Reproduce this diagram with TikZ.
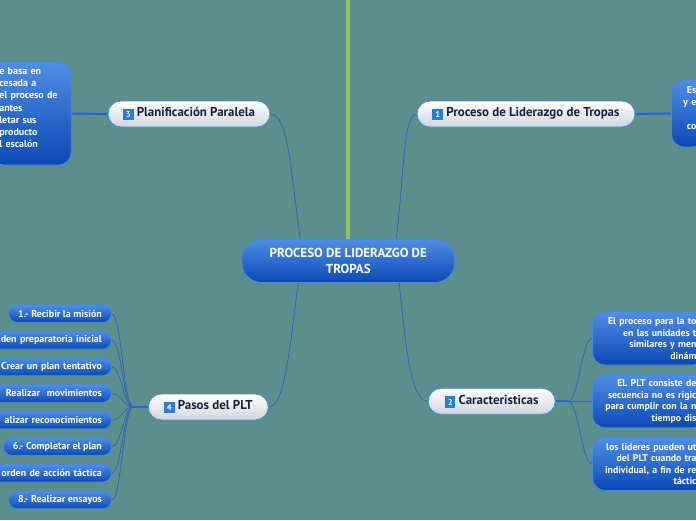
\documentclass[tikz,border=0pt]{standalone}
\usepackage{fontspec}
\setmainfont{PT Sans}
\usepackage{xcolor}
\usepackage{tikz}
\usetikzlibrary{positioning, calc, backgrounds}

\definecolor{bgteal}{RGB}{92,142,139}
\definecolor{stemgreen}{RGB}{141,198,99}
\definecolor{cardtop}{RGB}{78,142,228}
\definecolor{cardbot}{RGB}{12,72,182}
\definecolor{cardline}{RGB}{66,138,226}
\definecolor{pillgray}{RGB}{208,213,220}
\definecolor{pillline}{RGB}{70,140,215}
\definecolor{navytext}{RGB}{22,32,66}
\definecolor{iconblue}{RGB}{40,125,220}
\definecolor{linkblue}{RGB}{45,105,185}
\definecolor{trunkblue}{RGB}{35,105,205}

\newcommand{\numicon}[1]{{\setlength{\fboxsep}{1.3pt}\raisebox{-1.2pt}{\colorbox{iconblue}{\makebox[8pt][c]{\rule[-1.2pt]{0pt}{9.2pt}\textcolor{white}{\fontsize{8.5}{8.5}\selectfont\bfseries #1}}}}}}

\begin{document}
\begin{tikzpicture}[x=1pt, y=-1pt,
  root/.style={rectangle, draw=cardline, line width=0.8pt, rounded corners=20pt,
               top color=cardtop, bottom color=cardbot, text=white, align=center,
               minimum width=213pt, minimum height=43pt,
               font=\fontsize{13}{15.5}\selectfont\bfseries},
  topic/.style={rectangle, draw=pillline, line width=0.8pt, rounded corners=13pt,
                top color=white, bottom color=pillgray, text=navytext,
                minimum height=26pt, font=\fontsize{12.9}{14}\selectfont\bfseries},
  card/.style={rectangle, draw=cardline, line width=0.8pt, rounded corners=13pt,
               top color=cardtop, bottom color=cardbot, text=white, inner xsep=10pt,
               font=\fontsize{9.8}{11.6}\selectfont\bfseries},
  stepbox/.style={rectangle, draw=cardline, line width=0.8pt, rounded corners=8.5pt,
                  top color=cardtop, bottom color=cardbot, text=white, anchor=east,
                  inner xsep=9.4pt, inner ysep=0pt, minimum height=17.5pt,
                  font=\fontsize{10}{11}\selectfont\bfseries},
  cutstep/.style={stepbox, text width=104pt, align=right},
  link/.style={draw=linkblue, line width=0.8pt},
  trunk/.style={draw=trunkblue, line width=2.2pt}]

  \useasboundingbox (0,0) rectangle (696,520);

  \node[root] (PLT) at (348.3,261) {PROCESO DE LIDERAZGO DE\\TROPAS};

  \node[topic, minimum width=218pt] (PROC) at (526,114) {\numicon{1} Proceso de Liderazgo de Tropas};
  \node[topic, minimum width=162pt] (PLAN) at (189,114) {\numicon{3} Planificación Paralela};
  \node[topic, minimum width=120pt] (PASOS) at (208.3,407) {\numicon{4} Pasos del PLT};
  \node[topic, minimum width=127pt] (CAR) at (491.7,401.3) {\numicon{2} Caracteristicas};

  \node[card, anchor=west, text width=17pt, inner xsep=8pt, minimum height=67pt, align=right,
        font=\fontsize{10}{12}\selectfont\bfseries] (DEF) at (671,113.5) {Es\\y e\\\mbox{}\\co\\\mbox{}};
  \node[card, anchor=east, text width=64pt, inner xsep=8pt, minimum height=103pt, align=left,
        font=\fontsize{10}{12.2}\selectfont\bfseries] (BASE) at (71.7,113.6)
        {e basa en\\cesada a\\el proceso de\\antes\\letar sus\\producto\\l escalón\\\mbox{}};

  \node[card, anchor=west, text width=94pt, align=right, minimum height=53pt] (C1) at (592,338.5)
        {El proceso para la to\\en las unidades t\\similares y men\\dinám};
  \node[card, anchor=west, text width=94pt, align=right, minimum height=53pt] (C2) at (592,401.3)
        {EL PLT consiste de\\secuencia no es rígic\\para cumplir con la n\\tiempo dis};
  \node[card, anchor=west, text width=94pt, align=right, minimum height=53pt] (C3) at (592,464)
        {los lideres pueden ut\\del PLT cuando tra\\individual, a fin de re\\táctic};

  \node[stepbox] (S1) at (111.7,313.7) {1.- Recibir la misión};
  \node[cutstep] (S2) at (111.7,340.3) {den preparatoria inicial};
  \node[cutstep] (S3) at (111.7,366.9) {Crear un plan tentativo};
  \node[cutstep] (S4) at (111.7,393.5) {Realizar\ \ movimientos};
  \node[cutstep] (S5) at (111.7,420.1) {alizar reconocimientos};
  \node[stepbox] (S6) at (111.7,446.7) {6.- Completar el plan};
  \node[cutstep] (S7) at (111.7,473.3) {orden de acción táctica};
  \node[stepbox] (S8) at (111.7,499.9) {8.- Realizar ensayos};

  \coordinate (TOP) at (348.3,0);
  \coordinate (PJ) at (133.3,407);
  \coordinate (CJ) at (568.3,401.3);

  \begin{pgfonlayer}{background}
    \fill[bgteal] (0,0) rectangle (696,520);
    \draw[stemgreen, line width=4pt] (TOP) -- (PLT.north);

    \draw[link] ($(PLT.north)+(-48,0)$) .. controls +(-10,-70) and +(18,0) .. (PLAN.east);
    \draw[link] ($(PLT.north)+(48,0)$) .. controls +(8,-70) and +(-13,0) .. (PROC.west);
    \draw[link] ($(PLT.south)+(-50,0)$) .. controls +(-8,57) and +(17,0) .. (PASOS.east);
    \draw[link] ($(PLT.south)+(51,0)$) .. controls +(6,57) and +(-18,0) .. (CAR.west);

    \draw[trunk] (PROC.east) -- (DEF.west);
    \draw[trunk] (PLAN.west) -- (BASE.east);
    \draw[trunk] (PASOS.west) -- (PJ);
    \draw[trunk] (CAR.east) -- (CJ);

    \foreach \s in {S1,S2,S3,S4,S5,S6,S7,S8}
      \draw[link] (PJ) .. controls +(-10,0) and +(10,0) .. (\s.east);
    \foreach \c in {C1,C2,C3}
      \draw[link] (CJ) .. controls +(10,0) and +(-10,0) .. (\c.west);
  \end{pgfonlayer}
\end{tikzpicture}
\end{document}
